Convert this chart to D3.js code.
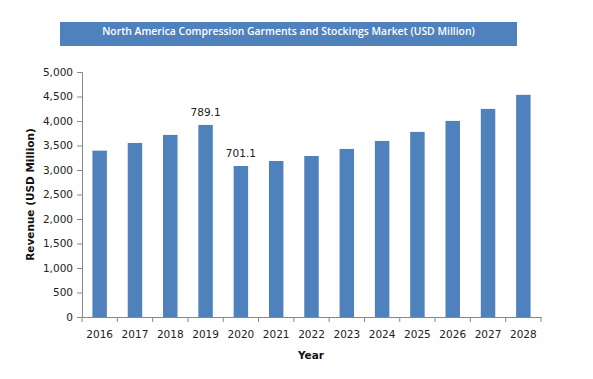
<!DOCTYPE html>
<html>
<head>
<meta charset="utf-8">
<script src="https://d3js.org/d3.v7.min.js"></script>
<style>
  body { margin: 0; background: #fff; }
  svg { display: block; }
  .tick text { font-family: "DejaVu Sans", sans-serif; font-size: 10.5px; fill: #222; }
  .domain, .tick line { stroke: #888; }
</style>
</head>
<body>
<svg id="chart" width="593" height="379"></svg>
<script>
var years = ["2016", "2017", "2018", "2019", "2020", "2021", "2022", "2023", "2024", "2025", "2026", "2027", "2028"];
var revenue = [3395, 3552, 3716, 3920, 3082, 3184, 3286, 3430, 3593, 3777, 4002, 4247, 4534];
var yTicks = [0, 500, 1000, 1500, 2000, 2500, 3000, 3500, 4000, 4500, 5000];
var labelYears = ["2019", "2020"];
var labelTexts = ["789.1", "701.1"];

var svg = d3.select("#chart");
var margin = { left: 82, right: 52, top: 72, bottom: 62 };
var width = 593 - margin.left - margin.right,
    height = 379 - margin.top - margin.bottom;

// title banner
svg.append("rect")
    .attr("x", 60).attr("y", 22)
    .attr("width", 457).attr("height", 24)
    .attr("fill", "#4F81BD");
svg.append("text")
    .attr("x", 288.5).attr("y", 31)
    .attr("text-anchor", "middle")
    .attr("dominant-baseline", "central")
    .style("font-family", "'Open Sans', sans-serif")
    .style("font-size", "10.4px")
    .style("font-weight", "600")
    .style("fill", "#fff")
    .text("North America Compression Garments and Stockings Market (USD Million)");

var g = svg.append("g").attr("transform", "translate(" + margin.left + "," + margin.top + ")");

var x = d3.scaleBand().domain(years).range([0, width]).paddingInner(0.59).paddingOuter(0.295);
var y = d3.scaleLinear().domain([0, 5000]).range([height, 0]);

g.selectAll(".bar")
    .data(years)
    .enter().append("rect")
    .attr("class", "bar")
    .attr("x", function(d) { return x(d); })
    .attr("width", x.bandwidth())
    .attr("y", function(d, i) { return y(revenue[i]); })
    .attr("height", function(d, i) { return height - y(revenue[i]); })
    .attr("fill", "#4F81BD");

// y axis
g.append("g")
    .attr("class", "y axis")
    .call(d3.axisLeft(y).tickValues(yTicks).tickSize(5).tickPadding(4).tickFormat(d3.format(",")));

// x axis: ticks at category boundaries
var xAxis = g.append("g")
    .attr("class", "x axis")
    .attr("transform", "translate(0," + height + ")")
    .call(d3.axisBottom(x).tickSize(0).tickPadding(14).tickSizeOuter(0));
var step = x.step();
xAxis.selectAll(".sep")
    .data(d3.range(years.length + 1))
    .enter().append("line")
    .attr("class", "sep")
    .attr("x1", function(i) { return i * step; })
    .attr("x2", function(i) { return i * step; })
    .attr("y1", 0).attr("y2", 5)
    .attr("stroke", "#888");

// data labels
g.selectAll(".lbl")
    .data(labelYears)
    .enter().append("text")
    .attr("class", "lbl")
    .attr("x", function(d) { return x(d) + x.bandwidth() / 2; })
    .attr("y", function(d) { return y(revenue[years.indexOf(d)]) - 9; })
    .attr("text-anchor", "middle")
    .style("font-family", "'DejaVu Sans', sans-serif")
    .style("font-size", "10.5px")
    .style("fill", "#222")
    .text(function(d, i) { return labelTexts[i]; });

// axis titles
svg.append("text")
    .attr("transform", "translate(34," + (margin.top + height / 2) + ") rotate(-90)")
    .attr("text-anchor", "middle")
    .style("font-family", "'DejaVu Sans', sans-serif")
    .style("font-size", "10.5px")
    .style("font-weight", "bold")
    .style("fill", "#111")
    .text("Revenue (USD Million)");

svg.append("text")
    .attr("x", 311).attr("y", 359)
    .attr("text-anchor", "middle")
    .style("font-family", "'DejaVu Sans', sans-serif")
    .style("font-size", "10.5px")
    .style("font-weight", "bold")
    .style("fill", "#111")
    .text("Year");
</script>
</body>
</html>
